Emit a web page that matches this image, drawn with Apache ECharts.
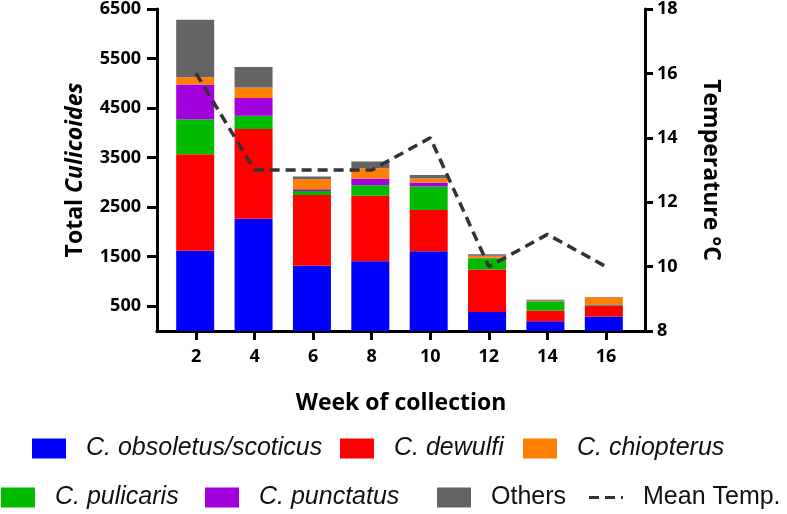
<!DOCTYPE html>
<html>
<head>
<meta charset="utf-8">
<script src="https://cdn.jsdelivr.net/npm/echarts@6/dist/echarts.min.js"></script>
<style>html,body{margin:0;padding:0;background:#fff}#c{width:787px;height:514px}</style>
</head>
<body>
<div id="c"></div>
<script>
const weeks = [2, 4, 6, 8, 10, 12, 14, 16];
const obsoletus = [1610, 2250, 1310, 1400, 1600, 380, 195, 290];
const dewulfi = [1936, 1800, 1420, 1312, 826, 852, 215, 210];
const pulicaris = [700, 266, 80, 214, 474, 228, 180, 15];
const punctatus = [700, 360, 34, 134, 80, 10, 5, 15];
const chiopterus = [146, 208, 200, 206, 80, 42, 10, 145];
const others = [1154, 412, 54, 134, 72, 28, 20, 5];
const meanTemp = [16, 13, 13, 13, 14, 10, 11, 10];
const leftTicks = [500, 1500, 2500, 3500, 4500, 5500, 6500];

const FONT = '"Open Sans", "DejaVu Sans", sans-serif';
const LFONT = '"Liberation Sans", Arial, sans-serif';

const barDefs = [
  {name: 'C. obsoletus/scoticus', data: obsoletus, color: '#0000ff'},
  {name: 'C. dewulfi', data: dewulfi, color: '#ff0000'},
  {name: 'C. pulicaris', data: pulicaris, color: '#00bb00'},
  {name: 'C. punctatus', data: punctatus, color: '#a300de'},
  {name: 'C. chiopterus', data: chiopterus, color: '#ff8000'},
  {name: 'Others', data: others, color: '#646464'}
];

const series = barDefs.map(d => ({
  name: d.name,
  type: 'bar',
  stack: 'total',
  xAxisIndex: 1,
  yAxisIndex: 2,
  barWidth: 38,
  itemStyle: {color: d.color},
  emphasis: {disabled: true},
  data: d.data.slice()
}));
series.push({
  name: 'Mean Temp.',
  type: 'line',
  xAxisIndex: 0,
  yAxisIndex: 1,
  symbol: 'none',
  lineStyle: {color: '#333333', width: 3.5, type: [10, 6]},
  itemStyle: {color: '#333333'},
  data: weeks.map((w, i) => [w, meanTemp[i]]),
  z: 5
});

function lg(name, left, top, italic) {
  const isLine = name === 'Mean Temp.';
  return {
    data: [{
      name: name,
      icon: isLine ? 'path://M0,0h10v3h-10z M16,0h10v3h-10z M32,0h2v3h-2z' : 'rect',
      itemStyle: isLine ? {color: '#333333'} : undefined
    }],
    left: left, top: top, padding: 0,
    itemWidth: 34, itemHeight: isLine ? 3.5 : 20,
    selectedMode: false,
    textStyle: {fontFamily: LFONT, fontSize: 25, fontStyle: italic ? 'italic' : 'normal', color: '#111', padding: [0, 0, 0, 15]}
  };
}

const labelFmt = v => String(v);

const chart = echarts.init(document.getElementById('c'), null, {renderer: 'canvas'});
chart.setOption({
  animation: false,
  backgroundColor: '#fff',
  grid: [
    {left: 157, right: 142, top: 7, bottom: 183, containLabel: false},
    {left: 166, right: 154, top: 7, bottom: 183, containLabel: false}
  ],
  legend: [
    lg('C. obsoletus/scoticus', 32, 436, true),
    lg('C. dewulfi', 340, 436, true),
    lg('C. chiopterus', 523, 436, true),
    lg('C. pulicaris', 1, 485, true),
    lg('C. punctatus', 205, 485, true),
    lg('Others', 437, 485, false),
    lg('Mean Temp.', 589, 485, false)
  ],
  xAxis: [
    {
      type: 'value', gridIndex: 0, min: 0.667, max: 17.333,
      name: 'Week of collection', nameLocation: 'middle', nameGap: 61,
      nameTextStyle: {fontFamily: FONT, fontWeight: 'bold', fontSize: 23, color: '#000'},
      axisLine: {show: true, onZero: false, lineStyle: {color: '#000', width: 3}},
      axisTick: {show: true, length: 9, lineStyle: {color: '#000', width: 3}, customValues: weeks},
      axisLabel: {fontFamily: FONT, fontWeight: 'bold', fontSize: 18, color: '#000', margin: 17, customValues: weeks, formatter: labelFmt},
      splitLine: {show: false}
    },
    {
      type: 'category', gridIndex: 1, data: weeks.map(String),
      show: false
    }
  ],
  yAxis: [
    {
      type: 'value', gridIndex: 0, min: 0, max: 6500,
      name: '{a|Total }{b|Culicoides}', nameLocation: 'middle', nameGap: 70, nameRotate: 90,
      nameTextStyle: {rich: {
        a: {fontFamily: FONT, fontWeight: 'bold', fontSize: 23, color: '#000'},
        b: {fontFamily: FONT, fontWeight: 'bold', fontStyle: 'italic', fontSize: 23, color: '#000'}
      }},
      axisLine: {show: true, lineStyle: {color: '#000', width: 3}},
      axisTick: {show: true, length: 10, lineStyle: {color: '#000', width: 3}, customValues: leftTicks},
      axisLabel: {fontFamily: FONT, fontWeight: 'bold', fontSize: 18, color: '#000', margin: 16, customValues: leftTicks, formatter: labelFmt},
      splitLine: {show: false}
    },
    {
      type: 'value', gridIndex: 0, min: 8, max: 18, interval: 2, position: 'right',
      name: 'Temperature °C', nameLocation: 'middle', nameGap: 54, nameRotate: -90,
      nameTextStyle: {fontFamily: FONT, fontWeight: 'bold', fontSize: 23, color: '#000'},
      axisLine: {show: true, lineStyle: {color: '#000', width: 3}},
      axisTick: {show: true, length: 8, lineStyle: {color: '#000', width: 3}},
      axisLabel: {fontFamily: FONT, fontWeight: 'bold', fontSize: 18, color: '#000', margin: 12, formatter: labelFmt},
      splitLine: {show: false}
    },
    {
      type: 'value', gridIndex: 1, min: 0, max: 6500, show: false
    }
  ],
  series: series
});
</script>
</body>
</html>
